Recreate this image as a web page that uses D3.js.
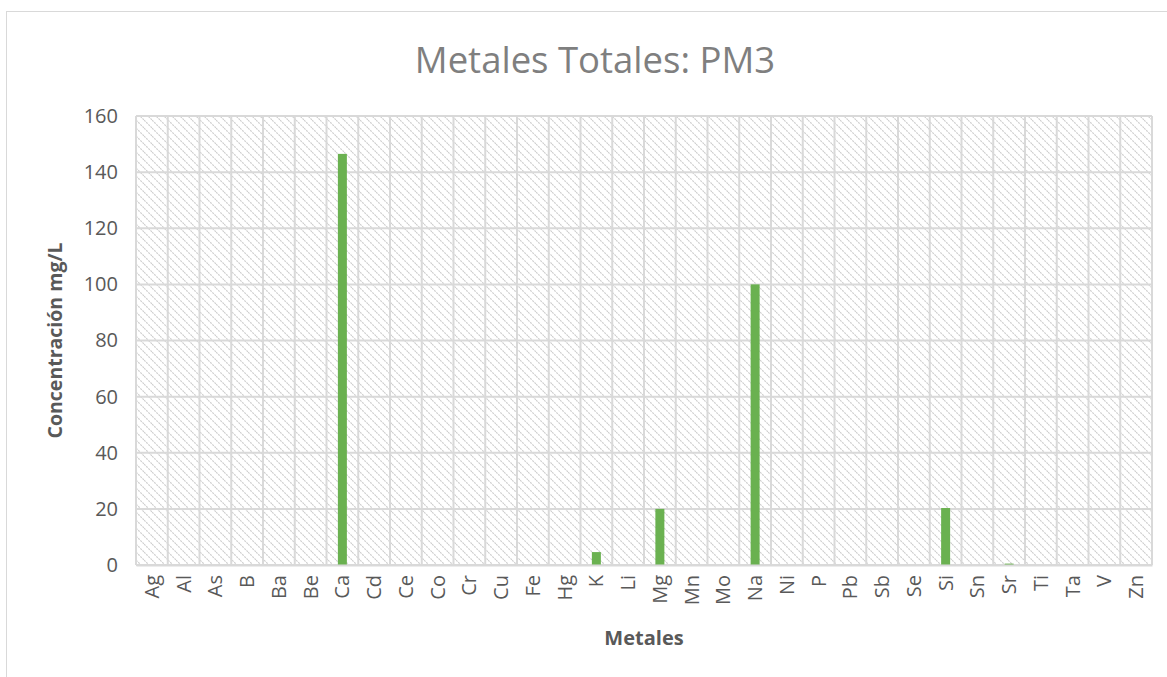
<!DOCTYPE html>
<html>
<head>
<meta charset="utf-8">
<script src="https://cdn.jsdelivr.net/npm/d3@7"></script>
<style>
  body { margin: 0; background: #fff; }
  text { font-family: "Open Sans", "Noto Sans", sans-serif; }
</style>
</head>
<body>
<svg id="chart" width="1167" height="677"></svg>
<script>
const metales = ["Ag","Al","As","B","Ba","Be","Ca","Cd","Ce","Co","Cr","Cu","Fe","Hg","K","Li","Mg","Mn","Mo","Na","Ni","P","Pb","Sb","Se","Si","Sn","Sr","Ti","Ta","V","Zn"];
const concentracion = [0,0,0,0,0,0,146.5,0,0,0,0,0,0,0,4.6,0,20,0,0,100,0,0,0,0,0,20.3,0,0.5,0,0,0,0];
const yTicks = [0,20,40,60,80,100,120,140,160];

const svg = d3.select("#chart");
const margin = {left: 136, right: 15, top: 116, bottom: 112};
const W = 1167, H = 677;

// chart frame
svg.append("rect")
    .attr("x", 6.5).attr("y", 11.5)
    .attr("width", 1170).attr("height", 680)
    .attr("fill", "#fff").attr("stroke", "#d9d9d9").attr("stroke-width", 1);

// hatch pattern
const defs = svg.append("defs");
const pat = defs.append("pattern")
    .attr("id", "hatch")
    .attr("patternUnits", "userSpaceOnUse")
    .attr("width", 8).attr("height", 8);
pat.append("rect").attr("width", 8).attr("height", 8).attr("fill", "#fff");
pat.append("path")
    .attr("d", "M-2,-2 L10,10 M-2,6 L2,10 M6,-2 L10,2")
    .attr("stroke", "#cdcdcd")
    .attr("stroke-width", 1.1)
    .attr("stroke-dasharray", "2,1");

const x = d3.scaleBand()
    .domain(metales)
    .range([margin.left, W - margin.right]);

const y = d3.scaleLinear()
    .domain([0, 160])
    .range([H - margin.bottom, margin.top]);

const plot = svg.append("g");

plot.append("rect")
    .attr("x", x.range()[0]).attr("y", y(160))
    .attr("width", x.range()[1] - x.range()[0])
    .attr("height", y(0) - y(160))
    .attr("fill", "url(#hatch)");

// horizontal gridlines
plot.selectAll(".hgrid")
    .data(yTicks)
    .join("line")
    .attr("x1", x.range()[0]).attr("x2", x.range()[1])
    .attr("y1", d => y(d)).attr("y2", d => y(d))
    .attr("stroke", "#d9d9d9").attr("stroke-width", 2);

// vertical gridlines at category boundaries
const bounds = metales.map(m => x(m)).concat([x.range()[1]]);
plot.selectAll(".vgrid")
    .data(bounds)
    .join("line")
    .attr("x1", d => d).attr("x2", d => d)
    .attr("y1", y(160)).attr("y2", y(0))
    .attr("stroke", "#d9d9d9").attr("stroke-width", 2);

// bars
const barW = 9;
plot.selectAll(".bar")
    .data(metales.map((m, i) => ({m, v: concentracion[i]})))
    .join("rect")
    .attr("x", d => x(d.m) + x.bandwidth() / 2 - barW / 2)
    .attr("y", d => y(d.v))
    .attr("width", barW)
    .attr("height", d => y(0) - y(d.v))
    .attr("fill", "#6ab150");

// axes
const yAxis = svg.append("g")
    .attr("transform", `translate(${x.range()[0]},0)`)
    .call(d3.axisLeft(y).tickValues(yTicks).tickSize(0).tickPadding(18));
yAxis.select(".domain").remove();
yAxis.selectAll("text")
    .attr("fill", "#595959").attr("font-size", 20)
    .style("font-family", "'Open Sans', sans-serif");

const xAxis = svg.append("g")
    .attr("transform", `translate(0,${y(0)})`)
    .call(d3.axisBottom(x).tickSize(0).tickPadding(0));
xAxis.select(".domain").attr("stroke", "#d9d9d9").attr("stroke-width", 2);
xAxis.selectAll("text")
    .attr("fill", "#595959").attr("font-size", 20)
    .style("font-family", "'Open Sans', sans-serif")
    .attr("text-anchor", "end")
    .attr("transform", "rotate(-90)")
    .attr("x", -10).attr("y", 0).attr("dy", "0.35em");

// title
svg.append("text")
    .attr("x", 595).attr("y", 73)
    .attr("text-anchor", "middle")
    .attr("font-size", 36.5)
    .attr("fill", "#7f7f7f")
    .text("Metales Totales: PM3");

svg.append("text")
    .attr("x", (x.range()[0] + x.range()[1]) / 2).attr("y", 645)
    .attr("text-anchor", "middle")
    .attr("font-size", 20).attr("font-weight", "bold")
    .attr("fill", "#595959")
    .text("Metales");

svg.append("text")
    .attr("transform", `translate(62,${(y(0) + y(160)) / 2}) rotate(-90)`)
    .attr("text-anchor", "middle")
    .attr("font-size", 19.5).attr("font-weight", "bold")
    .attr("fill", "#595959")
    .text("Concentración mg/L");
</script>
</body>
</html>
